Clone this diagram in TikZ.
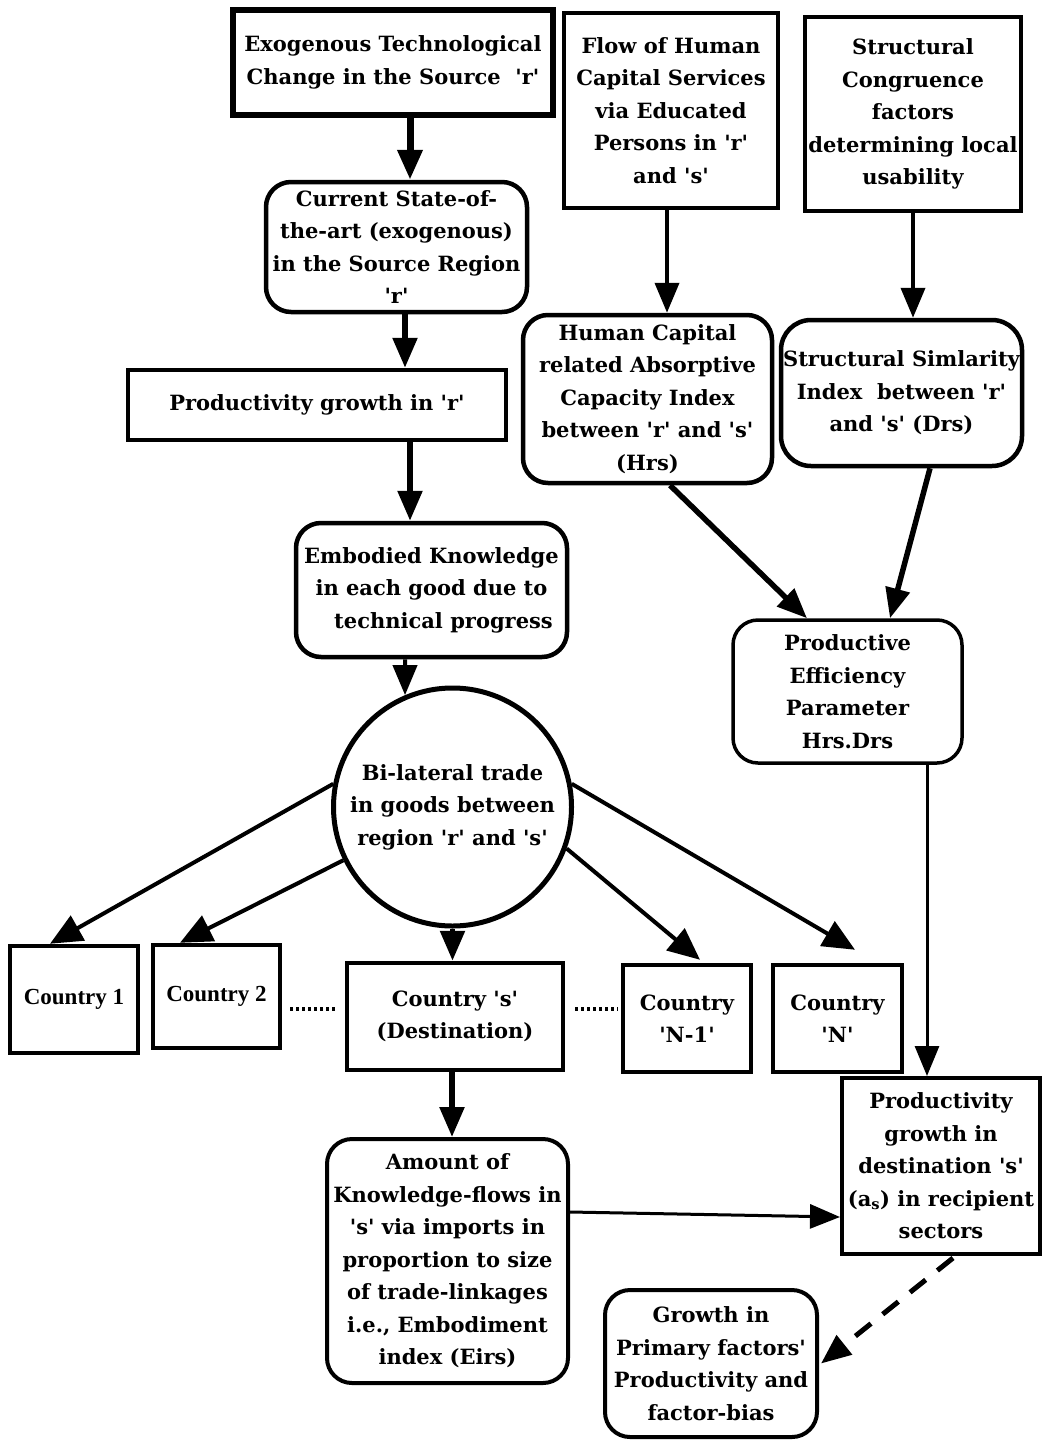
\documentclass[tikz,border=0pt]{standalone}
\usepackage{fontspec}
\setmainfont{DejaVu Serif}
\newfontfamily\timesb{Liberation Serif}
\usetikzlibrary{arrows.meta,calc}
\newcommand\q{\textquotesingle}
\begin{document}
\begin{tikzpicture}[x=1pt,y=-1pt,
  txt/.style={font=\bfseries\fontsize{21}{32.5}\selectfont, align=center, inner sep=0pt},
  sq/.style={txt, draw, line width=4.5pt},
  rd/.style={sq, rounded corners=25pt},
  tipd/.style={-{Triangle[length=30pt,width=24pt]}},
  arr/.style={tipd, line width=5.5pt},
  arrm/.style={tipd, line width=4pt},
  arrt/.style={tipd, line width=3pt},
  dotsep/.style={line width=3.5pt, dash pattern=on 3pt off 3pt}
]
\fill[white] (0,0) rectangle (1042,1440);
\useasboundingbox (0,0) rectangle (1042,1440);

% top row
\node[sq, line width=5.5pt, minimum width=320pt, minimum height=105pt] (exo) at (393,62.5)
  {Exogenous Technological\\Change in the Source\ \ \q{}r\q{}};
\node[sq, minimum width=214pt, minimum height=195pt] (flow) at (671,110.5)
  {Flow of Human\\Capital Services\\via Educated\\Persons in \q{}r\q{}\\and \q{}s\q{}};
\node[sq, minimum width=216pt, minimum height=194pt] (struct) at (913,114)
  {Structural\\Congruence\\factors\\determining local\\usability};

% left column
\node[rd, minimum width=261pt, minimum height=130pt] (current) at (396.5,247)
  {Current State-of-\\the-art (exogenous)\\in the Source Region\\\q{}r\q{}};
\node[sq, minimum width=378pt, minimum height=70pt] (prodr) at (317,405)
  {Productivity growth in \q{}r\q{}};
\node[rd, minimum width=271pt, minimum height=134pt] (emb) at (431.5,590)
  {Embodied Knowledge\\in each good due to\\\hspace*{24pt}technical progress};

% right column
\node[rd, minimum width=249pt, minimum height=168pt] (hc) at (647.5,399)
  {Human Capital\\related Absorptive\\Capacity Index\\between \q{}r\q{} and \q{}s\q{}\\(Hrs)};
\node[rd, rounded corners=30pt, minimum width=241pt, minimum height=146pt] (ssi) at (901.5,393)
  {Structural Simlarity\\Index\ \ between \q{}r\q{}\\and \q{}s\q{} (Drs)};
\node[rd, line width=3.5pt, minimum width=229pt, minimum height=143pt] (pe) at (847.5,691.5)
  {Productive\\Efficiency\\Parameter\\Hrs.Drs};

% trade circle
\node[txt, draw, circle, line width=5pt, minimum size=238pt] (trade) at (452.5,807)
  {Bi-lateral trade\\in goods between\\region \q{}r\q{} and \q{}s\q{}};

% countries
\node[sq, font=\timesb\bfseries\fontsize{23}{28}\selectfont, minimum width=128pt, minimum height=107pt] (c1) at (74,999.5) {Country 1};
\node[sq, font=\timesb\bfseries\fontsize{23}{28}\selectfont, minimum width=127pt, minimum height=103pt] (c2) at (216.5,996.5) {Country 2};
\node[sq, minimum width=216pt, minimum height=107pt] (cs) at (455,1016.5) {Country \q{}s\q{}\\(Destination)};
\node[sq, minimum width=128pt, minimum height=107pt] (cn1) at (687,1018.5) {Country\\\q{}N-1\q{}};
\node[sq, minimum width=129pt, minimum height=107pt] (cn) at (837.5,1018.5) {Country\\\q{}N\q{}};

% bottom
\node[sq, line width=4pt, minimum width=198pt, minimum height=176pt] (pgd) at (941,1166)
  {Productivity\\growth in\\destination \q{}s\q{}\\(a\textsubscript{s}) in recipient\\sectors};
\node[rd, line width=4pt, minimum width=241pt, minimum height=244pt] (amt) at (447.5,1261)
  {Amount of\\Knowledge-flows in\\\q{}s\q{} via imports in\\proportion to size\\of trade-linkages\\i.e., Embodiment\\index (Eirs)};
\node[rd, line width=4pt, minimum width=212pt, minimum height=147pt] (gpf) at (711,1363.5)
  {Growth in\\Primary factors\q{}\\Productivity and\\factor-bias};

% connectors
\draw[arr, line width=7pt] ($(exo.south)+(17,0)$) -- ($(current.north)+(13.5,0)$);
\draw[arr] ($(current.south)+(8.5,0)$) -- ($(prodr.north)+(88,0)$);
\draw[arr] ($(prodr.south)+(93,0)$) -- ($(emb.north)+(-21.5,0)$);
\draw[arrm] ($(emb.south)+(-26.5,0)$) -- (trade.113.5);
\draw[arrm] ($(flow.south)+(-4,0)$) -- ($(hc.north)+(19.5,0)$);
\draw[arrm] (struct.south) -- ($(ssi.north)+(11.5,0)$);
\draw[arr] ($(hc.south)+(22.5,0)$) -- ($(pe.north)+(-40.5,0)$);
\draw[arr] ($(ssi.south)+(28.5,0)$) -- ($(pe.north)+(42.5,0)$);
\draw[arrt] ($(pe.south)+(79.5,0)$) -- ($(pgd.north)+(-14,0)$);

\draw[arrm, -{Triangle[length=32pt,width=28pt]}] (trade.169) -- ($(c1.north)+(-24,0)$);
\draw[arrm, -{Triangle[length=32pt,width=28pt]}] (trade.206) -- ($(c2.north)+(-36.5,0)$);
\draw[arr] (trade.south) -- ($(cs.north)+(-2.5,0)$);
\draw[arrm, -{Triangle[length=32pt,width=28pt]}] (trade.-20) -- ($(cn1.north)+(13,-3)$);
\draw[arrm, -{Triangle[length=32pt,width=28pt]}] (trade.11) -- ($(cn.north)+(17.5,-13)$);

\draw[arr] ($(cs.south)+(-3,0)$) -- ($(amt.north)+(4.5,0)$);
\draw[arrt] ($(amt.east)+(0,-49)$) -- ($(pgd.west)+(0,51)$);
\draw[arrm, line width=5pt, dash pattern=on 20pt off 15pt] ($(pgd.south)+(12,2)$) -- ($(gpf.east)+(2,0)$);

\draw[dotsep] ($(c2.east)+(8,12.5)$) -- ($(cs.west)+(-7,-7.5)$);
\draw[dotsep] ($(cs.east)+(10,-7.5)$) -- ($(cn1.west)+(-3,-9.5)$);
\end{tikzpicture}
\end{document}
